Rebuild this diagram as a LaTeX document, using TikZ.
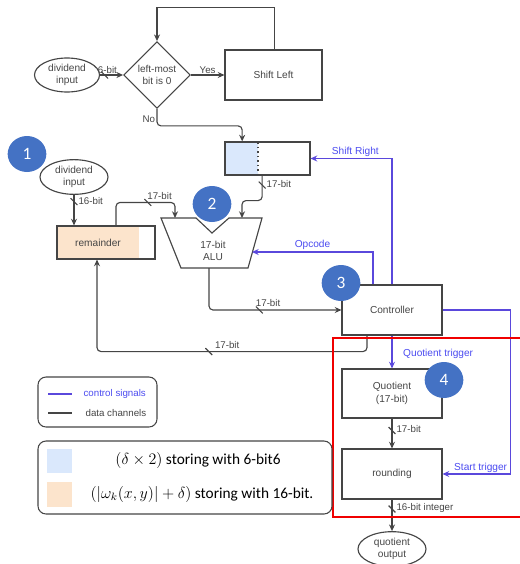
\documentclass[tikz,border=0pt]{standalone}
\usepackage{fontspec}
\setmainfont{Liberation Sans}
\newfontfamily\legendfont{Carlito}
\usetikzlibrary{shapes.geometric,arrows.meta,positioning}

\definecolor{wire}{HTML}{454545}
\definecolor{ctrl}{HTML}{5A48DC}
\definecolor{ctrltext}{HTML}{4B4BF0}
\definecolor{regblue}{HTML}{DAE8FC}
\definecolor{regorange}{HTML}{FCE4CC}
\definecolor{badgeblue}{HTML}{4472C4}
\definecolor{framered}{HTML}{F00000}

\begin{document}
\begin{tikzpicture}[
    x=0.75pt, y=-0.75pt,
    font=\fontsize{7.3}{8.8}\selectfont,
    box/.style={rectangle, draw=wire, line width=0.85pt, minimum width=75pt, minimum height=37.5pt, inner sep=0pt, align=center, text=wire, font=\fontsize{7.6}{9.6}\selectfont},
    io/.style={ellipse, draw=wire, line width=0.85pt, minimum width=51pt, minimum height=26pt, inner sep=0pt, align=center, text=wire, font=\fontsize{7.6}{9}\selectfont},
    decision/.style={diamond, draw=wire, line width=0.85pt, minimum size=50pt, inner sep=0pt, align=center, text=wire, font=\fontsize{7.5}{9}\selectfont},
    badge/.style={ellipse, fill=badgeblue, text=white, minimum width=29pt, minimum height=27pt, inner sep=0pt, font=\legendfont\fontsize{13}{13}\selectfont},
    data/.style={-{Stealth[length=5pt,width=4.5pt]}, draw=wire, line width=0.85pt, rounded corners=3pt},
    signal/.style={-{Stealth[length=5pt,width=4.5pt]}, draw=ctrl, line width=0.85pt},
    lbl/.style={inner sep=1pt, text=wire},
    siglbl/.style={inner sep=1pt, text=ctrltext, font=\fontsize{7.6}{9}\selectfont},
    busmark/.style={draw=none, minimum size=7pt, inner sep=0pt, path picture={\draw[-, wire, line width=0.85pt] (path picture bounding box.north west) -- (path picture bounding box.south east);}}
]
    \useasboundingbox (0,0) rectangle (520,564);

    % loading the 6-bit divisor
    \node[io, minimum width=48.75pt, minimum height=25.5pt] (divtop) at (67,75) {dividend\\input};
    \node[decision] (leftbit) at (157,75) {left-most\\bit is 0};
    \node[box, minimum width=72.75pt] (shiftleft) at (273.5,75) {Shift Left};
    \node[box, minimum width=63.75pt, minimum height=24.75pt,
          path picture={\fill[regblue] (path picture bounding box.north west) rectangle ([xshift=24.75pt]path picture bounding box.south west);
                        \draw[wire, line width=1.1pt, dash pattern=on 1.2pt off 2.2pt] ([xshift=24.75pt]path picture bounding box.north west) -- ([xshift=24.75pt]path picture bounding box.south west);}] (shiftreg) at (267.5,158.5) {};

    \draw[data] (divtop) -- node[busmark, pos=0.2] {} node[lbl, above, pos=0.32] {6-bit} (leftbit);
    \draw[data] (leftbit) -- node[lbl, above] {Yes} (shiftleft);
    \draw[data, rounded corners=0pt] ([xshift=1pt]shiftleft.north) -- ++(0,-42) -| (leftbit.north);
    \draw[data] (leftbit.south) -- node[lbl, left, pos=0.6] {No} ++(0,17) -| ([xshift=-19pt]shiftreg.north);

    % 17-bit ALU
    \draw[wire, line width=0.85pt] (161,218) -- (196,218) -- (212,233) -- (229,218) -- (262,218) -- (248,268) -- (181,268) -- cycle;
    \node[lbl, align=center, font=\fontsize{7.6}{9}\selectfont] (alu) at (213,251) {17-bit\\ALU};
    \coordinate (aluA) at (175,218);
    \coordinate (aluB) at (242,218);
    \coordinate (aluop) at (252,252);
    \coordinate (aluout) at (209,268);

    % remainder register
    \node[io] (divleft) at (74,177) {dividend\\input};
    \node[box, minimum width=73.5pt, minimum height=24.75pt,
          path picture={\fill[regorange] (path picture bounding box.north west) rectangle ([xshift=61.5pt]path picture bounding box.south west);}] (rem) at (106,242.5) {\makebox[73.5pt][l]{\makebox[61.5pt]{remainder}}};

    % control and output
    \node[box] (ctrl) at (392,310) {Controller};
    \node[box, minimum height=36.75pt] (quot) at (392,393.5) {Quotient\\(17-bit)};
    \node[box] (round) at (392,474) {rounding};
    \node[io] (qout) at (392,549) {quotient\\output};

    % data channels
    \draw[data] ([xshift=-4pt]shiftreg.south) -- node[busmark, pos=0.38] {} node[lbl, anchor=west, pos=0.32, xshift=2pt] {17-bit} ++(0,25) -| (aluB);
    \draw[data] (divleft.south) -- node[busmark, pos=0.22] {} node[lbl, anchor=west, pos=0.2, xshift=2pt] {16-bit} (divleft.south |- rem.north);
    \draw[data] ([xshift=7.5pt]rem.north) -- ++(0,-23) -| node[busmark, pos=0.27] {} node[lbl, anchor=south west, pos=0.25, yshift=1pt] {17-bit} (aluA);
    \draw[data] (aluout) |- node[busmark, pos=0.69] {} node[lbl, anchor=south west, pos=0.67, yshift=1pt] {17-bit} (ctrl.west);
    \draw[data] ([xshift=-18.75pt]ctrl.south) -- ++(0,16) -| node[busmark, pos=0.293] {} node[lbl, anchor=south west, pos=0.285, yshift=1pt] {17-bit} ([xshift=-6.75pt]rem.south);
    \draw[data] (quot) -- node[busmark, pos=0.4] {} node[lbl, anchor=west, pos=0.35, xshift=2pt] {17-bit} (round);
    \draw[data] (round) -- node[busmark, pos=0.3] {} node[lbl, anchor=west, pos=0.28, xshift=2pt] {16-bit integer} (qout);

    % control signals
    \draw[signal] ([xshift=-14.25pt]ctrl.north) |- node[siglbl, above, pos=0.75] {Opcode} (aluop);
    \draw[signal] (ctrl.north) |- node[siglbl, above, pos=0.725] {Shift Right} (shiftreg.east);
    \draw[signal] (ctrl.east) -- ++(68,0) |- node[siglbl, above, pos=0.72] {Start trigger} (round.east);
    \draw[signal] (ctrl) -- node[siglbl, right=7pt, pos=0.55] {Quotient trigger} (quot);

    % step badges
    \node[badge] (stepA) at (27,154) {1};
    \node[badge] (stepB) at (212,204) {2};
    \node[badge] (stepC) at (341,283) {3};
    \node[badge] (stepD) at (444,380) {4};

    % highlighted output stage
    \draw[framered, line width=1.6pt] (333,338) rectangle (524,517);

    % legends
    \draw[wire, line width=0.8pt, rounded corners=6pt] (38,377) rectangle (157,427);
    \draw[ctrl, line width=0.85pt] (48,394) -- (72,394);
    \node[siglbl, anchor=west, font=\fontsize{7.3}{8.8}\selectfont] (legsig) at (82,394) {control signals};
    \draw[wire, line width=0.85pt] (48,413) -- (72,413);
    \node[lbl, anchor=west] (legdata) at (84,413) {data channels};

    \draw[wire, line width=0.8pt, rounded corners=6pt] (38,441) rectangle (332,514);
    \fill[regblue] (47,449) rectangle (72,473);
    \fill[regorange] (47,482) rectangle (72,507);
    \node[text=black, font=\legendfont\fontsize{11.5}{13}\selectfont] (legblue) at (198,460) {$(\delta \times 2)$ storing with 6-bit6};
    \node[text=black, font=\legendfont\fontsize{11.5}{13}\selectfont] (legorange) at (202,494) {$(|\omega_k(x,y)| + \delta)$ storing with 16-bit.};
\end{tikzpicture}
\end{document}
